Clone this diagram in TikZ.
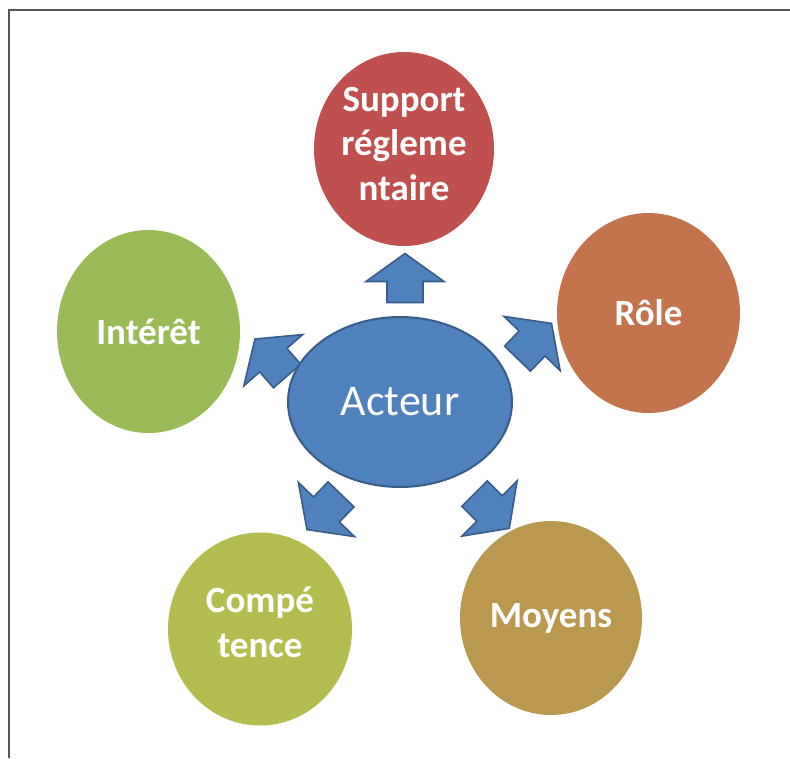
\documentclass[tikz,border=0pt]{standalone}
\usepackage{fontspec}
\setmainfont{Carlito}
\usetikzlibrary{shapes.geometric}
\definecolor{cred}{RGB}{192,80,77}
\definecolor{corange}{RGB}{195,116,77}
\definecolor{cgold}{RGB}{187,152,79}
\definecolor{colive}{RGB}{180,189,80}
\definecolor{cgreen}{RGB}{155,187,89}
\definecolor{cblue}{RGB}{79,129,189}
\definecolor{cblueline}{RGB}{56,93,138}
\definecolor{cframe}{RGB}{85,85,85}
\tikzset{
  bubble/.style={ellipse, inner sep=0pt, text=white, align=center,
    font=\bfseries\fontsize{37}{45}\selectfont},
  bubbletext/.style={inner sep=0pt, text=white, align=center,
    font=\bfseries\fontsize{37}{45}\selectfont},
  centre/.style={ellipse, inner sep=0pt, fill=cblue, draw=cblueline, line width=2pt,
    text=white, font=\fontsize{44}{50}\selectfont, minimum width=224pt, minimum height=170pt},
  arrowstyle/.style={fill=cblue, draw=cblueline, line width=1.6pt, line join=miter},
  blockarrow/.pic={\draw[arrowstyle] (-24.5,-18) -- (-3.5,-18) -- (-3.5,-39) -- (24.5,0)
     -- (-3.5,39) -- (-3.5,18) -- (-24.5,18) -- cycle;},
  frameline/.style={draw=cframe, line width=2.6pt}
}
\begin{document}
\begin{tikzpicture}[x=1pt,y=-1pt]
\useasboundingbox (0,0) rectangle (790,758);
\fill[white] (0,0) rectangle (790,758);
\coordinate (fbl) at (9,758);
\coordinate (ftl) at (9,10);
\coordinate (ftr) at (790,10);
\draw[frameline] (fbl) -- (ftl) -- (ftr);

% outer bubbles
\node[bubble, fill=cred, minimum width=180pt, minimum height=194pt] (support) at (404,149) {};
\node[bubbletext] (supporttext) at ([yshift=5pt]support.center) {Support\\[-1pt]régleme\\ntaire};
\node[bubble, fill=corange, minimum width=183pt, minimum height=200pt] (role) at (648.5,313) {Rôle};
\node[bubble, fill=cgold, minimum width=182pt, minimum height=194pt] (moyens) at (551,618) {Moyens};
\node[bubble, fill=colive, minimum width=184pt, minimum height=193pt] (competence) at (260,629) {};
\node[bubbletext] (competencetext) at ([yshift=7pt]competence.center) {Compé\\tence};
\node[bubble, fill=cgreen, minimum width=183pt, minimum height=203pt] (interet) at (148.5,331.5) {Intérêt};

% block arrows
\pic[rotate=90] at (405,278) {blockarrow};
\pic[rotate=46] at (534.5,341) {blockarrow};
\pic[rotate=131] at (271,357.5) {blockarrow};
\pic[rotate=226] at (324,512) {blockarrow};
\pic[rotate=315] at (492,511) {blockarrow};

% centre
\node[centre] (acteur) at (400,402) {Acteur};
\end{tikzpicture}
\end{document}
